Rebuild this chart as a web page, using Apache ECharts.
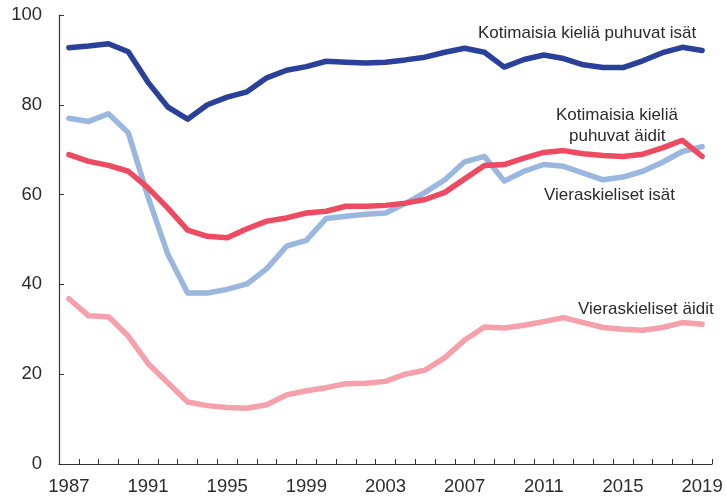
<!DOCTYPE html>
<html>
<head>
<meta charset="utf-8">
<script src="https://cdn.jsdelivr.net/npm/echarts@6/dist/echarts.min.js"></script>
<style>
  html, body { margin: 0; padding: 0; background: #fff; }
  #chart { width: 726px; height: 496px; }
</style>
</head>
<body>
<div id="chart"></div>
<script>
// Years 1987–2019
const years = [];
for (let y = 1987; y <= 2019; y++) years.push(String(y));

const yTicks = [0, 20, 40, 60, 80, 100];

// Share (%) per group and year
const kotimaisetIsat = [92.7, 93.1, 93.6, 91.8, 85.0, 79.5, 76.8, 80.0, 81.7, 82.9, 86.0, 87.7, 88.5, 89.7, 89.5, 89.3, 89.5, 90.0, 90.6, 91.7, 92.6, 91.7, 88.4, 90.1, 91.1, 90.3, 88.9, 88.3, 88.3, 89.8, 91.6, 92.8, 92.1];
const vieraskielisetIsat = [77.0, 76.3, 78.0, 73.8, 59.5, 46.7, 38.1, 38.1, 38.9, 40.1, 43.5, 48.5, 49.8, 54.7, 55.2, 55.6, 55.9, 58.0, 60.5, 63.3, 67.3, 68.5, 63.0, 65.2, 66.7, 66.3, 64.8, 63.3, 63.9, 65.2, 67.2, 69.6, 70.7];
const kotimaisetAidit = [68.9, 67.4, 66.5, 65.2, 61.5, 57.0, 52.1, 50.7, 50.4, 52.4, 54.1, 54.8, 55.9, 56.3, 57.4, 57.4, 57.6, 58.1, 58.9, 60.5, 63.5, 66.5, 66.7, 68.1, 69.4, 69.8, 69.1, 68.7, 68.5, 69.0, 70.4, 72.1, 68.5];
const vieraskielisetAidit = [36.8, 33.0, 32.8, 28.5, 22.4, 18.1, 13.8, 13.0, 12.6, 12.4, 13.2, 15.4, 16.3, 17.0, 17.9, 18.0, 18.4, 20.0, 20.9, 23.7, 27.6, 30.5, 30.3, 30.9, 31.7, 32.6, 31.5, 30.4, 30.0, 29.8, 30.4, 31.5, 31.1];

const seriesNames = [
  'Kotimaisia kieliä puhuvat isät',
  'Vieraskieliset isät',
  'Kotimaisia kieliä puhuvat äidit',
  'Vieraskieliset äidit'
];
const colors = ['#2B4199', '#9AB7E0', '#EE4B62', '#F5A0AA'];

const fontFamily = '"Liberation Sans", Arial, sans-serif';
const axisColor = '#333';
const textColor = '#2b2b2b';
const noteFont = '17px ' + fontFamily;

function line(name, data, color, z) {
  return {
    name: name,
    type: 'line',
    data: data,
    symbol: 'none',
    z: z,
    lineStyle: { color: color, width: 5.5, cap: 'round', join: 'round' },
    emphasis: { disabled: true }
  };
}

function note(text, x, y) {
  return {
    type: 'text', x: x, y: y, z: 10,
    style: { text: text, font: noteFont, fill: textColor, align: 'left', verticalAlign: 'middle' }
  };
}

const chart = echarts.init(document.getElementById('chart'), null, { renderer: 'canvas' });
chart.setOption({
  animation: false,
  backgroundColor: '#fff',
  grid: { left: 59, right: 14, top: 15, bottom: 31 },
  xAxis: {
    type: 'category',
    data: years,
    boundaryGap: true,
    axisLine: { lineStyle: { color: axisColor, width: 1.2 } },
    axisTick: { show: true, inside: true, interval: 0, length: 5, lineStyle: { color: axisColor } },
    axisLabel: {
      interval: (i, v) => (Number(v) - 1987) % 4 === 0,
      color: textColor, fontSize: 18.5, fontFamily: fontFamily, margin: 13
    },
    splitLine: { show: false }
  },
  yAxis: {
    type: 'value',
    min: yTicks[0],
    max: yTicks[yTicks.length - 1],
    interval: 20,
    axisLine: { show: true, lineStyle: { color: axisColor, width: 1.2 } },
    axisTick: { show: true, inside: true, length: 5, lineStyle: { color: axisColor } },
    axisLabel: { color: textColor, fontSize: 18.5, fontFamily: fontFamily, margin: 17 },
    splitLine: { show: false }
  },
  series: [
    line(seriesNames[3], vieraskielisetAidit, colors[3], 2),
    line(seriesNames[1], vieraskielisetIsat, colors[1], 3),
    line(seriesNames[2], kotimaisetAidit, colors[2], 4),
    line(seriesNames[0], kotimaisetIsat, colors[0], 5)
  ],
  graphic: [
    note('Kotimaisia kieliä puhuvat isät', 478, 33),
    note('Kotimaisia kieliä', 556, 115),
    note('puhuvat äidit', 569, 136),
    note('Vieraskieliset isät', 544, 195),
    note('Vieraskieliset äidit', 578, 309)
  ]
});
</script>
</body>
</html>
